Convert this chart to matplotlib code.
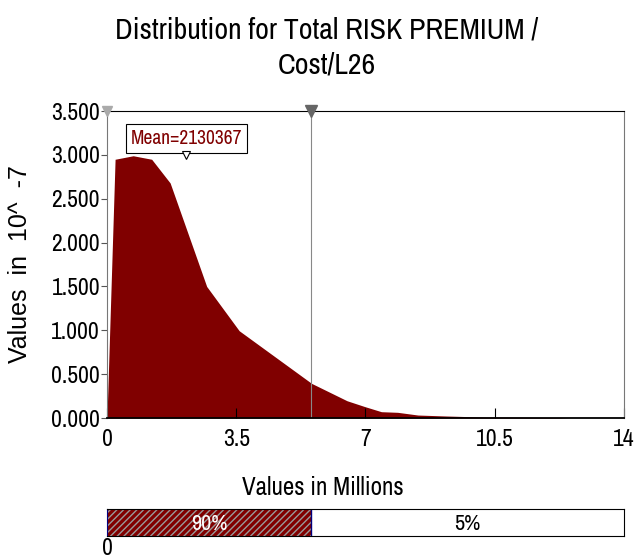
import numpy as np
import matplotlib
matplotlib.use("Agg")
import matplotlib.pyplot as plt
from matplotlib import font_manager

# pick a narrow sans face if one is installed
fams = {f.name for f in font_manager.fontManager.ttflist}
cands = ['Liberation Sans Narrow', 'Archivo Narrow', 'PT Sans Narrow', 'Roboto Condensed',
         'Arial Narrow', 'Liberation Sans']
narrow = [c for c in cands if c in fams][0]
plt.rcParams['font.family'] = [narrow, 'DejaVu Sans']

# density curve (values in millions, density in 10^-7)
xs = [0.0, 0.22, 0.71, 1.21, 1.71, 2.70, 3.58, 5.54, 6.50, 6.99, 7.43, 7.87, 8.42, 9.19, 10.28, 10.83, 12.27, 12.5]
ys = [0.0, 2.95, 2.99, 2.95, 2.68, 1.50, 0.995, 0.395, 0.197, 0.129, 0.072, 0.065, 0.034, 0.023, 0.010, 0.010, 0.005, 0.0]
mean_val = 2.130367
p95 = 5.53
bar_labels = ['90%', '5%']
xticks = [0, 3.5, 7, 10.5, 14]
yticks = [0, 0.5, 1.0, 1.5, 2.0, 2.5, 3.0, 3.5]

dark_red = '#800000'
fig = plt.figure(figsize=(6.36, 5.59), dpi=100)
ax = fig.add_axes([0.1682, 0.2522, 0.8129, 0.5492])
ax.fill_between(xs, ys, 0, color=dark_red, lw=0)
ax.set_xlim(0, 14)
ax.set_ylim(0, 3.5)
ax.axvline(p95, color='#888888', lw=0.8)

ax.set_xticks(xticks)
ax.set_xticklabels(['0', '3.5', '7', '10.5', '14'])
ax.set_yticks(yticks)
ax.set_yticklabels(['%.3f' % v for v in yticks])
ax.tick_params(axis='x', direction='in', length=7, labelsize=17, pad=8)
ax.tick_params(axis='y', direction='out', length=4, labelsize=17, pad=1, color='#555555')
for s in ['left', 'right']:
    ax.spines[s].set_color('#777777')
ax.spines['top'].set_color('black')
ax.spines['bottom'].set_color('black')
ax.spines['bottom'].set_linewidth(1.3)

# triangle markers at top
ax.plot([0], [3.5], marker='v', ms=7, color='#aaaaaa', clip_on=False, zorder=5)
ax.plot([p95], [3.5], marker='v', ms=8, color='#666666', clip_on=False, zorder=5)

# mean marker and label
ax.plot([mean_val], [3.0], marker='v', ms=6, mfc='white', mec='black', mew=0.8, clip_on=False, zorder=5)
ax.text(2.15, 3.19, 'Mean=2130367', color=dark_red, fontsize=14, ha='center', va='center',
        bbox=dict(boxstyle='square,pad=0.25', fc='white', ec='black', lw=0.8))

ax.set_ylabel('Values  in  10^  -7', fontsize=18, labelpad=14, family=['Liberation Sans', 'DejaVu Sans'])
fig.text(0.508, 0.128, 'Values in Millions', fontsize=18, ha='center', va='center')
fig.text(0.514, 0.915, 'Distribution for Total RISK PREMIUM /\nCost/L26', fontsize=21.5,
         ha='center', va='center', linespacing=1.4)

# percentile bar
bx = fig.add_axes([0.1682, 0.0411, 0.8129, 0.0483])
bx.set_xlim(0, 14)
bx.set_ylim(0, 1)
bx.barh(0.5, p95, left=0, height=1, color=dark_red, edgecolor='#999999', hatch='/////', lw=0)
bx.barh(0.5, 14 - p95, left=p95, height=1, color='white', lw=0)
bx.axvline(p95, color='#000080', lw=1)
bx.text(p95 / 2, 0.45, bar_labels[0], color='white', fontsize=16, ha='center', va='center')
bx.text((p95 + 14) / 2, 0.45, bar_labels[1], color='black', fontsize=16, ha='center', va='center')
bx.set_xticks([])
bx.set_yticks([])
for s in bx.spines.values():
    s.set_color('black')
bx.spines['left'].set_color('#000080')
fig.text(0.1682, 0.0, '0', fontsize=17, ha='center', va='bottom')

fig.savefig('out.png', dpi=100)
